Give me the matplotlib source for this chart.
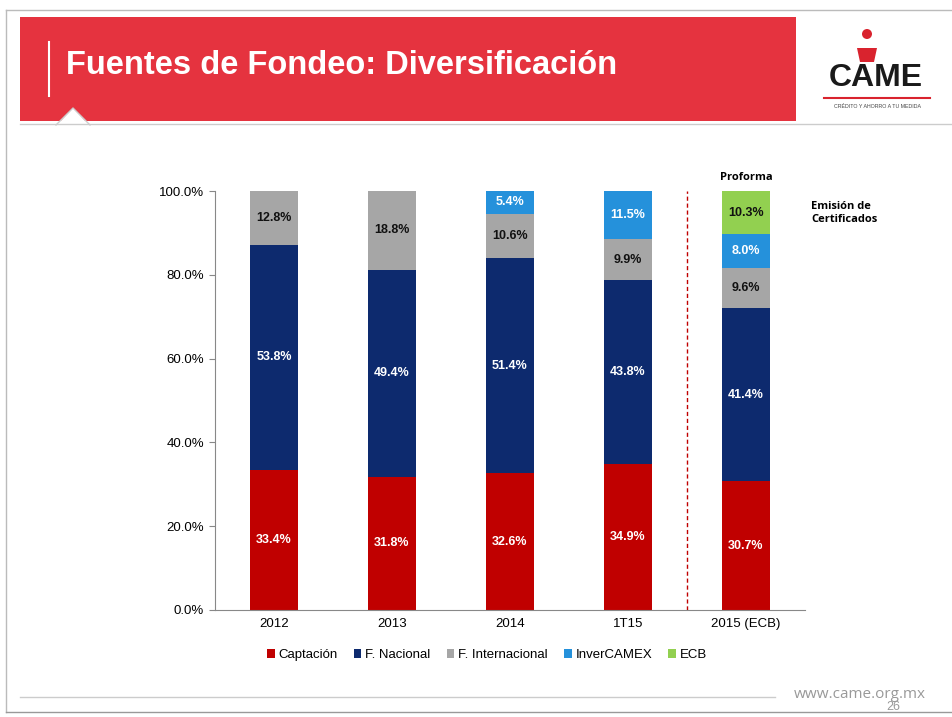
import numpy as np
import matplotlib.pyplot as plt
from matplotlib.patches import Rectangle, Polygon, Circle

categories = ["2012", "2013", "2014", "1T15", "2015 (ECB)"]
series_names = ["Captación", "F. Nacional", "F. Internacional", "InverCAMEX", "ECB"]
captacion = [33.4, 31.8, 32.6, 34.9, 30.7]
f_nacional = [53.8, 49.4, 51.4, 43.8, 41.4]
f_internacional = [12.8, 18.8, 10.6, 9.9, 9.6]
invercamex = [0, 0, 5.4, 11.5, 8.0]
ecb = [0, 0, 0, 0, 10.3]
yticks = [0, 20, 40, 60, 80, 100]

colors = ["#C00000", "#0D2A6E", "#A6A6A6", "#2591DB", "#92D050"]
label_colors = ["white", "white", "#111111", "white", "#111111"]

W, H = 952, 717
fig = plt.figure(figsize=(W / 100, H / 100), dpi=100)
plt.rcParams['font.family'] = ['Liberation Sans', 'DejaVu Sans']

# slide decoration in pixel coordinates
deco = fig.add_axes([0, 0, 1, 1])
deco.set_xlim(0, W)
deco.set_ylim(H, 0)
deco.axis("off")
deco.plot([6, 952], [10, 10], color="#BBBBBB", lw=1)
deco.plot([6, 6], [10, 712], color="#BBBBBB", lw=1)
deco.plot([6, 952], [712, 712], color="#999999", lw=1)
deco.add_patch(Rectangle((20, 17), 776, 104, color="#E5333F", lw=0))
deco.plot([20, 952], [124, 124], color="#CCCCCC", lw=1)
deco.add_patch(Polygon([[56, 126], [73, 108], [90, 126]], closed=True, color="white", lw=0))
deco.plot([56, 73, 90], [125, 108, 125], color="#CCCCCC", lw=1)
deco.plot([49, 49], [42, 96], color="white", lw=1.5)
deco.text(66, 66, "Fuentes de Fondeo: Diversificación", color="white",
          fontsize=23.5, fontweight="bold", va="center", ha="left")

# logo
deco.add_patch(Circle((867, 34), 5, color="#D9232E", lw=0))
deco.add_patch(Polygon([[857, 48], [877, 48], [874, 62], [860, 62]], closed=True, color="#D9232E", lw=0))
deco.text(876, 78, "CAME", fontsize=23, fontweight="heavy", color="#1A1A1A",
          ha="center", va="center")
deco.plot([824, 930], [98, 98], color="#D9232E", lw=1.5)
deco.text(877, 106, "CRÉDITO Y AHORRO A TU MEDIDA", fontsize=3.8, color="#444444",
          ha="center", va="center")

# footer
deco.plot([20, 775], [697, 697], color="#CCCCCC", lw=1)
deco.text(860, 695, "www.came.org.mx", fontsize=11, color="#999999", ha="center", va="center",
          family="Open Sans")
deco.text(893, 707, "26", fontsize=9, color="#999999", ha="center", va="center")

# chart
ax = fig.add_axes([215 / W, 1 - 610 / H, 590 / W, 419 / H])
x = np.arange(len(categories))
data = [captacion, f_nacional, f_internacional, invercamex, ecb]
bottom = np.zeros(len(categories))
for vals, name, c, lc in zip(data, series_names, colors, label_colors):
    vals = np.array(vals, dtype=float)
    ax.bar(x, vals, 0.41, bottom=bottom, color=c, label=name)
    for xi, v, b in zip(x, vals, bottom):
        if v > 0:
            ax.text(xi, b + v / 2, f"{v:.1f}%", ha="center", va="center",
                    color=lc, fontsize=9, fontweight="bold")
    bottom += vals

ax.axvline(3.5, 0, 1, color="#C00000", lw=1, ls=(0, (3, 2)))
ax.set_xlim(-0.5, 4.5)
ax.set_ylim(0, 100)
ax.set_yticks(yticks)
ax.set_yticklabels([f"{t:.1f}%" for t in yticks], fontsize=9.5)
ax.set_xticks(x)
ax.set_xticklabels(categories, fontsize=9.5)
ax.tick_params(axis="x", length=0, pad=6)
ax.tick_params(axis="y", length=4, color="#888888", pad=4)
for s in ["top", "right"]:
    ax.spines[s].set_visible(False)
for s in ["left", "bottom"]:
    ax.spines[s].set_color("#888888")
ax.patch.set_alpha(0)

ax.text(4, 102, "Proforma", ha="center", va="bottom", fontsize=8, fontweight="bold",
        family="Open Sans")
ax.text(4.55, 97.5, "Emisión de\nCertificados", ha="left", va="top", fontsize=8,
        fontweight="bold", family="Open Sans", linespacing=1.2)

fig.legend(loc="center", bbox_to_anchor=(487 / W, 1 - 655 / H), ncol=5, frameon=False,
           handlelength=0.6, handleheight=0.6, handletextpad=0.3, columnspacing=1.2,
           fontsize=9.5)

fig.savefig("out.png", dpi=100)
